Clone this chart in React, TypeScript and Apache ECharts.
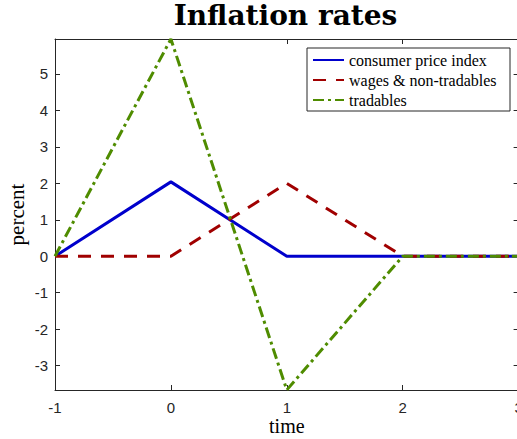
import React, { useEffect, useRef } from "react";
import * as echarts from "echarts";

const timeValues = [-1, 0, 1, 2, 3];
const cpiValues = [0, 2.04, 0, 0, 0];
const wagesValues = [0, 0, 2.0, 0, 0];
const tradablesValues = [0, 5.96, -3.67, 0, 0];
const seriesNames = ["consumer price index", "wages & non-tradables", "tradables"];
const yMin = -3.67;
const yMax = 5.96;
const xMin = -1;
const xMax = 3;

const axisColor = "#262626";
const serif = "Liberation Serif";
const sans = "Liberation Sans";

export default function App() {
  const ref = useRef<HTMLDivElement>(null);
  useEffect(() => {
    if (!ref.current) return;
    const chart = echarts.init(ref.current, undefined, { renderer: "svg" });
    const toPairs = (vals: number[]) => timeValues.map((t, i) => [t, vals[i]]);
    const xCommon = {
      type: "value" as const,
      min: xMin,
      max: xMax,
      interval: 1,
      splitLine: { show: false },
      axisLine: { show: true, onZero: false, lineStyle: { color: axisColor, width: 1 } },
      axisTick: { show: true, inside: true, length: 5, lineStyle: { color: axisColor } },
    };
    const yCommon = {
      type: "value" as const,
      min: yMin,
      max: yMax,
      minInterval: 1,
      maxInterval: 1,
      splitLine: { show: false },
      axisLine: { show: true, onZero: false, lineStyle: { color: axisColor, width: 1 } },
      axisTick: { show: true, inside: true, length: 5, lineStyle: { color: axisColor } },
    };
    chart.setOption({
      animation: false,
      backgroundColor: "#ffffff",
      grid: {
        left: 55,
        top: 39,
        width: 463.6,
        height: 351,
        containLabel: false,
        outerBoundsMode: "none",
      },
      xAxis: [
        {
          ...xCommon,
          position: "bottom",
          name: "time",
          nameLocation: "middle",
          nameGap: 28,
          nameMoveOverlap: false,
          nameTextStyle: { fontFamily: serif, fontSize: 20, lineHeight: 16, color: "#000" },
          axisLabel: {
            color: axisColor,
            fontFamily: sans,
            fontSize: 15,
            margin: 10,
          },
        },
        {
          ...xCommon,
          position: "top",
          axisLabel: { show: false },
        },
      ],
      yAxis: [
        {
          ...yCommon,
          position: "left",
          name: "percent",
          nameLocation: "middle",
          nameGap: 28,
          nameMoveOverlap: false,
          nameTextStyle: { fontFamily: serif, fontSize: 21, color: "#000" },
          axisLabel: {
            color: axisColor,
            fontFamily: sans,
            fontSize: 15,
            margin: 7,
            showMinLabel: false,
            showMaxLabel: false,
            formatter: (v: number) => (Math.abs(v - Math.round(v)) < 1e-6 ? String(Math.round(v)) : ""),
          },
        },
        {
          ...yCommon,
          position: "right",
          axisLabel: { show: false },
        },
      ],
      legend: {
        orient: "vertical",
        left: 312,
        top: 52,
        padding: 0,
        itemWidth: 31,
        itemHeight: 14,
        itemGap: 4,
        z: 20,
        itemStyle: { opacity: 0 },
        textStyle: { fontFamily: serif, fontSize: 16, color: "#000" },
        data: seriesNames,
      },
      graphic: [
        {
          type: "rect",
          z: 10,
          shape: { x: 307, y: 48, width: 203, height: 63 },
          style: { fill: "#ffffff", stroke: axisColor, lineWidth: 1 },
        },
        {
          type: "text",
          z: 10,
          x: 285.5,
          y: 15,
          style: {
            text: "Inflation rates",
            fontFamily: "DejaVu Serif",
            fontWeight: "bold",
            fontSize: 28,
            fill: "#000",
            textAlign: "center",
            textVerticalAlign: "middle",
          },
        },
      ],
      series: [
        {
          name: seriesNames[0],
          type: "line",
          data: toPairs(cpiValues),
          symbol: "none",
          color: "#0000cc",
          lineStyle: { color: "#0000cc", width: 3, type: "solid" },
        },
        {
          name: seriesNames[1],
          type: "line",
          data: toPairs(wagesValues),
          symbol: "none",
          color: "#a00000",
          lineStyle: { color: "#a00000", width: 3, type: [13, 10] },
        },
        {
          name: seriesNames[2],
          type: "line",
          data: toPairs(tradablesValues),
          symbol: "none",
          color: "#4f8c00",
          lineStyle: { color: "#4f8c00", width: 3, type: [11, 4, 3, 4] },
        },
      ],
    });
    return () => chart.dispose();
  }, []);
  return (
    <div
      ref={ref}
      style={{ position: "absolute", left: 0, top: 0, width: 517, height: 439 }}
    />
  );
}
